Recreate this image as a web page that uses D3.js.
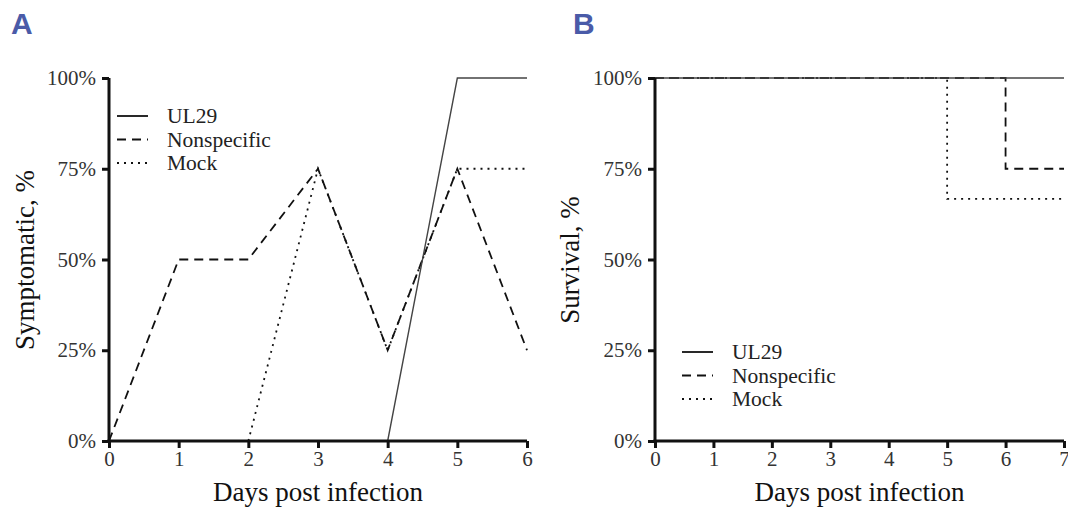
<!DOCTYPE html>
<html>
<head>
<meta charset="utf-8">
<script src="https://cdn.jsdelivr.net/npm/d3@7"></script>
<style>
  body { margin: 0; background: #fff; }
  svg { display: block; }
  .tick text { font-family: "Liberation Serif", "Times New Roman", serif; font-size: 21px; fill: #333; }
</style>
</head>
<body>
<div id="chart"></div>
<script>
// panel A: share of animals symptomatic, by day
const daysA = [0, 1, 2, 3, 4, 5, 6];
const ul29A = [null, null, null, null, 0, 1, 1];
const nonspecA = [0, 0.5, 0.5, 0.75, 0.25, 0.75, 0.25];
const mockA = [null, null, 0, 0.75, 0.25, 0.75, 0.75];

// panel B: survival, step curves (value holds from that day on)
const daysB = [0, 5, 6, 7];
const ul29B = [1, 1, 1, 1];
const nonspecB = [1, 1, 0.75, 0.75];
const mockB = [1, 0.667, 0.667, 0.667];

const yTicks = [0, 0.25, 0.5, 0.75, 1];
const seriesNames = ["UL29", "Nonspecific", "Mock"];
const dashes = ["none", "9,6", "2,5"];

const W = 1068, H = 508;
const svg = d3.select("#chart").append("svg").attr("width", W).attr("height", H);

function panel(opt) {
  let g = svg.append("g");
  let x = d3.scaleLinear().domain(opt.xDomain).range([opt.left, opt.right]);
  let y = d3.scaleLinear().domain([0, 1]).range([441, 78]);

  // draw back to front so the solid UL29 line sits on top where they overlap
  for (let i = opt.series.length - 1; i >= 0; i--) {
    let s = opt.series[i];
    let line = d3.line()
      .defined(function(d) { return d[1] != null; })
      .x(function(d) { return x(d[0]); })
      .y(function(d) { return y(d[1]); })
      .curve(opt.step ? d3.curveStepAfter : d3.curveLinear);
    let pts = opt.days.map(function(d, j) { return [d, s[j]]; });
    g.append("path")
      .attr("d", line(pts))
      .attr("fill", "none")
      .attr("stroke", i == 0 ? "#444" : "#111")
      .attr("stroke-width", i == 0 ? 1.4 : 1.8)
      .attr("stroke-dasharray", dashes[i]);
  }

  let xAxis = g.append("g").attr("transform", "translate(0,441)")
    .call(d3.axisBottom(x).ticks(opt.xDomain[1]).tickSize(7).tickPadding(3).tickFormat(d3.format("d")));
  let yAxis = g.append("g").attr("transform", "translate(" + opt.left + ",0)")
    .call(d3.axisLeft(y).tickValues(yTicks).tickSize(7).tickPadding(6).tickFormat(d3.format(".0%")));
  [xAxis, yAxis].forEach(function(a) {
    a.select(".domain").attr("stroke", "#111").attr("stroke-width", 3);
    a.selectAll(".tick line").attr("stroke", "#111").attr("stroke-width", 3);
  });
  yAxis.select(".domain").attr("d", "M0," + y(1) + "V" + y(0));
  xAxis.select(".domain").attr("d", "M" + (x(opt.xDomain[0]) - 1.5) + ",0H" + x(opt.xDomain[1]));

  g.append("text")
    .text("Days post infection")
    .attr("x", (opt.left + opt.right) / 2)
    .attr("y", 501)
    .attr("text-anchor", "middle")
    .attr("font-family", "Liberation Serif, serif")
    .attr("font-size", 27)
    .attr("fill", "#111");

  g.append("text")
    .text(opt.yTitle)
    .attr("transform", "translate(" + opt.yTitleX + ",260) rotate(-90)")
    .attr("text-anchor", "middle")
    .attr("font-family", "Liberation Serif, serif")
    .attr("font-size", 27)
    .attr("fill", "#111");

  g.append("text")
    .text(opt.label)
    .attr("x", opt.labelX)
    .attr("y", 34)
    .attr("font-family", "Liberation Sans, Arial, sans-serif")
    .attr("font-weight", "bold")
    .attr("font-size", 30)
    .attr("fill", "#4a5ba8");

  seriesNames.forEach(function(n, i) {
    let ly = opt.legY + i * 23.5;
    g.append("line")
      .attr("x1", opt.legX).attr("x2", opt.legX + 31)
      .attr("y1", ly).attr("y2", ly)
      .attr("stroke", "#111")
      .attr("stroke-width", 1.8)
      .attr("stroke-dasharray", dashes[i]);
    g.append("text")
      .text(n)
      .attr("x", opt.legX + 50)
      .attr("y", ly + 7)
      .attr("font-family", "Liberation Serif, serif")
      .attr("font-size", 21.5)
      .attr("fill", "#222");
  });
}

panel({ days: daysA, series: [ul29A, nonspecA, mockA], xDomain: [0, 6], left: 109, right: 527,
        step: false, yTitle: "Symptomatic, %", yTitleX: 34, label: "A", labelX: 11,
        legX: 117, legY: 116 });
panel({ days: daysB, series: [ul29B, nonspecB, mockB], xDomain: [0, 7], left: 655, right: 1064,
        step: true, yTitle: "Survival, %", yTitleX: 579, label: "B", labelX: 573,
        legX: 682, legY: 352 });
</script>
</body>
</html>
